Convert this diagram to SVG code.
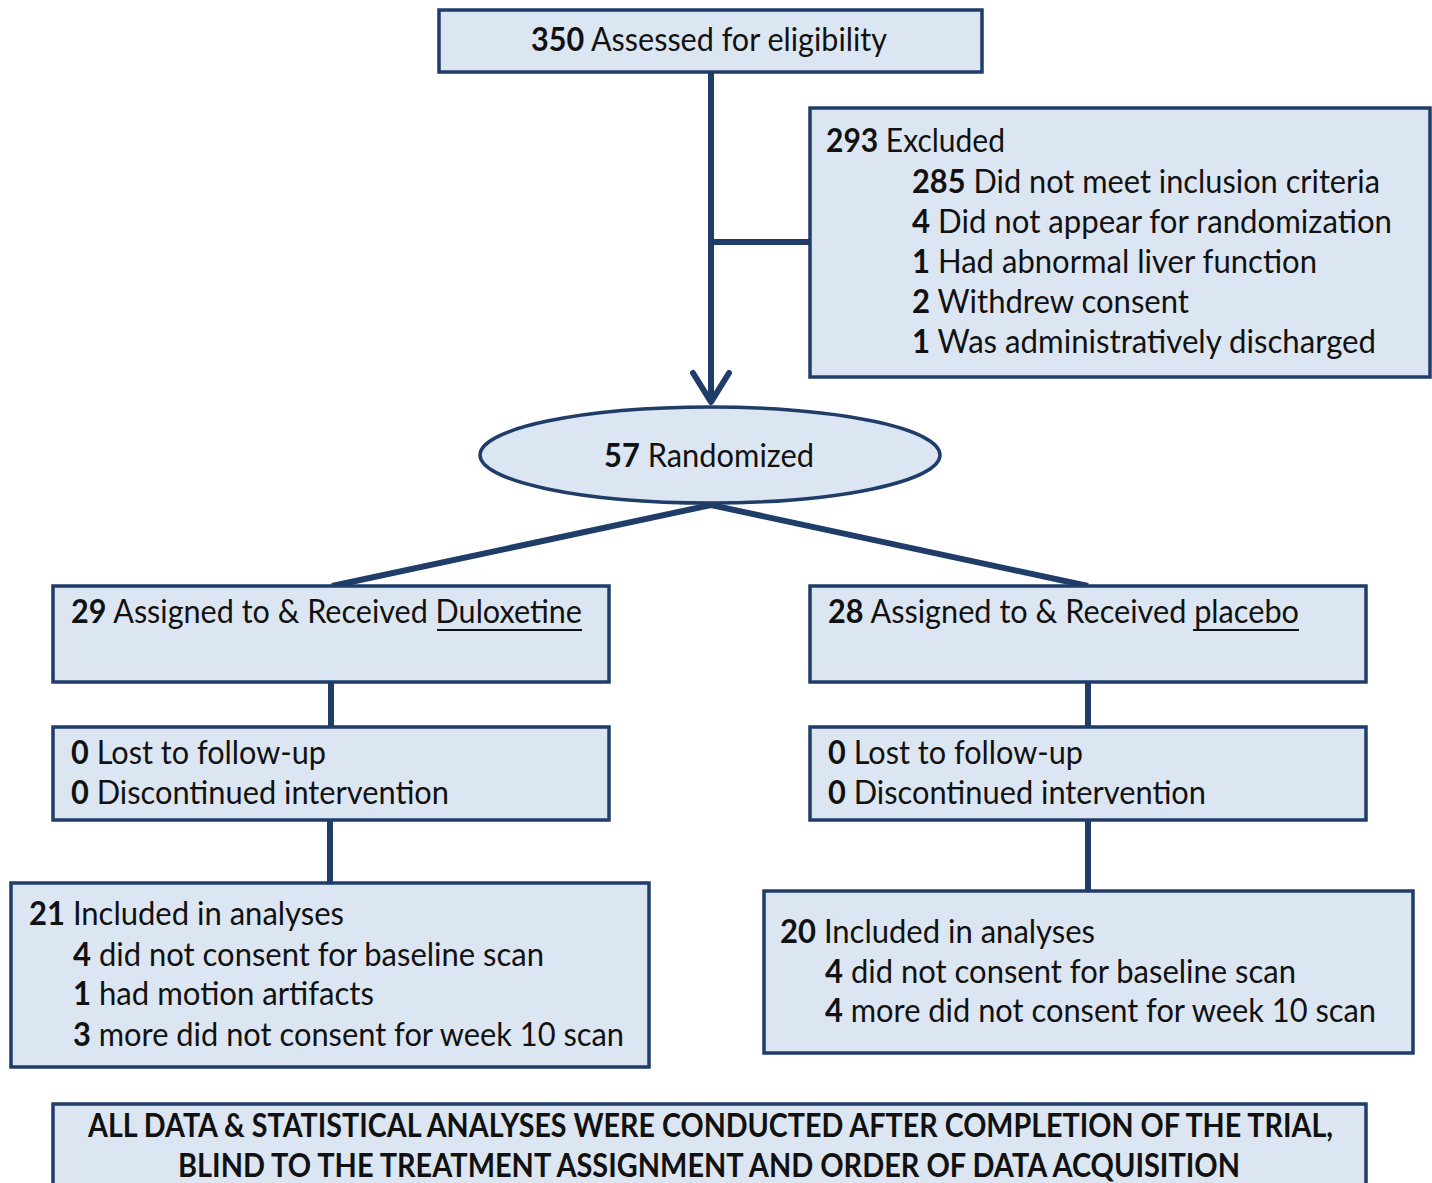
<svg xmlns="http://www.w3.org/2000/svg" width="1432" height="1183" viewBox="0 0 1432 1183">
<style>
.box{fill:#dce6f2;stroke:#1f3d68;stroke-width:3.5}
.ln{stroke:#1f3d68;stroke-width:6;fill:none}
text{font-family:Lato,"Open Sans","Liberation Sans",sans-serif;font-size:32px;fill:#111}
.b{font-weight:bold}
.cap{font-family:"Liberation Sans Narrow",Lato,"Liberation Sans",sans-serif;font-weight:bold;font-size:32px}
.ul{stroke:#111;stroke-width:2}
</style>
<rect width="1432" height="1183" fill="#fff"/>
<g id="connectors">
<line class="ln" x1="711" y1="72" x2="711" y2="400"/>
<line class="ln" x1="711" y1="242" x2="810" y2="242"/>
<polyline class="ln" points="693,373 711,402 729,373" stroke-linecap="round" stroke-linejoin="round"/>
<polyline class="ln" points="332,586 711,505 1088,586" stroke-linejoin="round"/>
<line class="ln" x1="331" y1="682" x2="331" y2="727"/>
<line class="ln" x1="330" y1="820" x2="330" y2="883"/>
<line class="ln" x1="1088" y1="682" x2="1088" y2="727"/>
<line class="ln" x1="1088" y1="820" x2="1088" y2="891"/>
</g>
<g id="assessed">
<rect class="box" x="439" y="10" width="543" height="62"/>
<text x="531" y="51" textLength="356" lengthAdjust="spacingAndGlyphs"><tspan class="b">350</tspan> Assessed for eligibility</text>
</g>
<g id="excluded">
<rect class="box" x="810" y="108" width="620" height="269"/>
<text x="826" y="152" textLength="179" lengthAdjust="spacingAndGlyphs"><tspan class="b">293</tspan> Excluded</text>
<text x="912" y="193" textLength="468" lengthAdjust="spacingAndGlyphs"><tspan class="b">285</tspan> Did not meet inclusion criteria</text>
<text x="912" y="233" textLength="480" lengthAdjust="spacingAndGlyphs"><tspan class="b">4</tspan> Did not appear for randomization</text>
<text x="912" y="273" textLength="405" lengthAdjust="spacingAndGlyphs"><tspan class="b">1</tspan> Had abnormal liver function</text>
<text x="912" y="313" textLength="277" lengthAdjust="spacingAndGlyphs"><tspan class="b">2</tspan> Withdrew consent</text>
<text x="912" y="353" textLength="464" lengthAdjust="spacingAndGlyphs"><tspan class="b">1</tspan> Was administratively discharged</text>
</g>
<g id="randomized">
<ellipse class="box" cx="710" cy="455" rx="230" ry="48"/>
<text x="604" y="467" textLength="210" lengthAdjust="spacingAndGlyphs"><tspan class="b">57</tspan> Randomized</text>
</g>
<g id="duloxetine">
<rect class="box" x="53" y="586" width="556" height="96"/>
<text x="71" y="623" textLength="511" lengthAdjust="spacingAndGlyphs"><tspan class="b">29</tspan> Assigned to &amp; Received Duloxetine</text>
<line class="ul" x1="437" y1="630" x2="582" y2="630"/>
</g>
<g id="placebo">
<rect class="box" x="810" y="586" width="556" height="96"/>
<text x="828" y="623" textLength="471" lengthAdjust="spacingAndGlyphs"><tspan class="b">28</tspan> Assigned to &amp; Received placebo</text>
<line class="ul" x1="1193" y1="630" x2="1299" y2="630"/>
</g>
<g id="followup-left">
<rect class="box" x="53" y="727" width="556" height="93"/>
<text x="71" y="764" textLength="255" lengthAdjust="spacingAndGlyphs"><tspan class="b">0</tspan> Lost to follow-up</text>
<text x="71" y="804" textLength="378" lengthAdjust="spacingAndGlyphs"><tspan class="b">0</tspan> Discontinued intervention</text>
</g>
<g id="followup-right">
<rect class="box" x="810" y="727" width="556" height="93"/>
<text x="828" y="764" textLength="255" lengthAdjust="spacingAndGlyphs"><tspan class="b">0</tspan> Lost to follow-up</text>
<text x="828" y="804" textLength="378" lengthAdjust="spacingAndGlyphs"><tspan class="b">0</tspan> Discontinued intervention</text>
</g>
<g id="analysis-left">
<rect class="box" x="11" y="883" width="638" height="184"/>
<text x="29" y="925" textLength="315" lengthAdjust="spacingAndGlyphs"><tspan class="b">21</tspan> Included in analyses</text>
<text x="73" y="966" textLength="471" lengthAdjust="spacingAndGlyphs"><tspan class="b">4</tspan> did not consent for baseline scan</text>
<text x="73" y="1005" textLength="301" lengthAdjust="spacingAndGlyphs"><tspan class="b">1</tspan> had motion artifacts</text>
<text x="73" y="1046" textLength="551" lengthAdjust="spacingAndGlyphs"><tspan class="b">3</tspan> more did not consent for week 10 scan</text>
</g>
<g id="analysis-right">
<rect class="box" x="764" y="891" width="649" height="162"/>
<text x="780" y="943" textLength="315" lengthAdjust="spacingAndGlyphs"><tspan class="b">20</tspan> Included in analyses</text>
<text x="825" y="983" textLength="471" lengthAdjust="spacingAndGlyphs"><tspan class="b">4</tspan> did not consent for baseline scan</text>
<text x="825" y="1022" textLength="551" lengthAdjust="spacingAndGlyphs"><tspan class="b">4</tspan> more did not consent for week 10 scan</text>
</g>
<g id="note">
<rect class="box" x="53" y="1104" width="1313" height="100"/>
<text class="cap" x="88" y="1137" textLength="1245" lengthAdjust="spacingAndGlyphs">ALL DATA &amp; STATISTICAL ANALYSES WERE CONDUCTED AFTER COMPLETION OF THE TRIAL,</text>
<text class="cap" x="178" y="1177" textLength="1062" lengthAdjust="spacingAndGlyphs">BLIND TO THE TREATMENT ASSIGNMENT AND ORDER OF DATA ACQUISITION</text>
</g>
</svg>
